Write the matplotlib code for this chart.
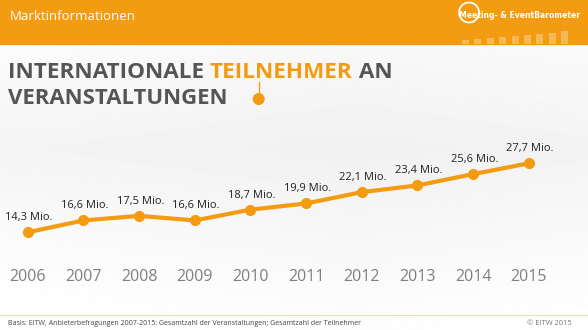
import matplotlib.pyplot as plt
import numpy as np
from matplotlib.patches import Rectangle, Circle

plt.rcParams['font.family'] = ['Open Sans', 'DejaVu Sans']

# Data
years = [2006, 2007, 2008, 2009, 2010, 2011, 2012, 2013, 2014, 2015]
values = [14.3, 16.6, 17.5, 16.6, 18.7, 19.9, 22.1, 23.4, 25.6, 27.7]
labels = ['14,3 Mio.', '16,6 Mio.', '17,5 Mio.', '16,6 Mio.', '18,7 Mio.',
          '19,9 Mio.', '22,1 Mio.', '23,4 Mio.', '25,6 Mio.', '27,7 Mio.']
logo_bars = [4, 5, 6, 7, 8, 9, 10, 11, 13]

orange = '#F39C12'
gray_title = '#555555'
W, H = 588, 330

fig = plt.figure(figsize=(W / 100, H / 100), dpi=100)

# background (light gray wash)
bg = fig.add_axes([0, 0, 1, 1])
yy = np.linspace(0, 1, 200)[:, None]
xx = np.linspace(0, 1, 300)[None, :]
shade = 0.945 + 0.055 * np.clip(np.abs(yy - 0.45) * 1.6 + np.abs(xx - 0.6) * 0.4, 0, 1)
bg.imshow(shade, cmap='gray', vmin=0, vmax=1, extent=[0, W, H, 0], aspect='auto')
bg.set_xlim(0, W)
bg.set_ylim(H, 0)
bg.axis('off')

# header band
bg.add_patch(Rectangle((0, 0), W, 44, color=orange, zorder=2))
bg.text(10, 16, 'Marktinformationen', color='white', fontsize=9.5,
        va='center', ha='left', zorder=3)
bg.add_patch(Circle((469, 12.5), 10, fill=False, ec='white', lw=1.3, zorder=3))
bg.text(459, 16, 'Meeting- & EventBarometer', color='white', fontsize=5.5,
        fontweight='bold', va='center', ha='left', zorder=4,
        family=['DejaVu Sans'])
for i, h in enumerate(logo_bars):
    bg.add_patch(Rectangle((462 + i * 12.4, 44 - h), 7, h, color='white',
                           alpha=0.3, lw=0, zorder=3))

# title in two colours
fig.canvas.draw()
r = fig.canvas.get_renderer()
x0 = 8
parts = [('INTERNATIONALE ', gray_title), ('TEILNEHMER', orange), (' AN', gray_title)]
for txt, col in parts:
    t = bg.text(x0, 72, txt, color=col, fontsize=16.2, fontweight='bold',
                va='center', ha='left', zorder=3)
    bb = t.get_window_extent(renderer=r)
    x0 += bb.width
bg.text(8, 99, 'VERANSTALTUNGEN', color=gray_title, fontsize=15.9,
        fontweight='bold', va='center', ha='left', zorder=3)
bg.plot([258.7, 258.7], [82, 95], color=orange, lw=1, zorder=3)
bg.add_patch(Circle((258.7, 99), 5.3, color=orange, zorder=3))

# footer
bg.plot([0, W], [314.5, 314.5], color='#F8DDB0', lw=0.8, zorder=3)
bg.text(8, 323.5, 'Basis: EITW, Anbieterbefragungen 2007-2015: Gesamtzahl der '
        'Veranstaltungen; Gesamtzahl der Teilnehmer', color='#444444',
        fontsize=5, va='center', ha='left', zorder=3)
bg.text(572, 323.5, '\u00a9 EITW 2015', color='#777777', fontsize=5.4,
        va='center', ha='right', zorder=3)

# chart axes covering the figure, mapped to pixel positions
ax = fig.add_axes([0, 0, 1, 1])
ax.patch.set_alpha(0)
ax.set_xlim(2005.502, 2016.065)
ax.set_ylim(-4.67, 59.41)
ax.axis('off')
ax.plot(years, values, color=orange, lw=3, marker='o', markersize=7,
        solid_capstyle='round', zorder=5)
for x, v, lab in zip(years, values, labels):
    ax.annotate(lab, (x, v), xytext=(1, 10.5), textcoords='offset points',
                ha='center', va='center', fontsize=8, color='#222222')
    ax.annotate(str(x), (x, -4.67), xytext=(0, 38.5), textcoords='offset points',
                ha='center', va='center', fontsize=11.5, color='#7F7F7F')

fig.savefig('out.png', dpi=100)
